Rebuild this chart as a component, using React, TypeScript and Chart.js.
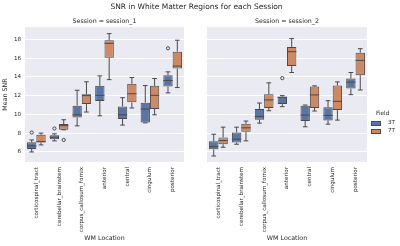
import React, { useEffect, useRef } from "react";
import { Chart, registerables } from "chart.js";
Chart.register(...registerables);

const FONT = "DejaVu Sans";
const TEXT = "#262626";
const LINE = "#4a4a4a";
const C3T = "#5875A4";
const C7T = "#CC8963";

const categories = [
  "corticospinal_tract",
  "cerebellar_brainstem",
  "corpus_callosum_fornix",
  "anterior",
  "central",
  "cingulum",
  "posterior",
];
const yTicks = [6, 8, 10, 12, 14, 16, 18];
const fields = ["3T", "7T"];

// Session 1
const s1_3T_q1 = [6.32, 7.36, 9.67, 11.43, 9.5, 9.14, 12.96];
const s1_3T_med = [6.64, 7.57, 9.96, 12.03, 9.96, 10.57, 13.6];
const s1_3T_q3 = [7.04, 7.79, 10.93, 13.04, 10.85, 11.25, 14.18];
const s1_3T_lo = [6.0, 7.18, 8.78, 9.85, 8.86, 9.1, 12.29];
const s1_3T_hi = [7.28, 7.93, 12.57, 14.1, 11.78, 13.07, 14.53];
const s1_3T_out = [[8.07], [8.5], [], [], [], [], [17.04]];

const s1_7T_q1 = [7.0, 8.36, 11.1, 16.04, 11.28, 10.57, 14.89];
const s1_7T_med = [7.1, 8.8, 12.0, 17.57, 12.2, 12.03, 15.14];
const s1_7T_q3 = [7.82, 8.97, 12.14, 17.9, 13.25, 13.04, 16.68];
const s1_7T_lo = [6.75, 8.36, 10.25, 13.7, 10.68, 9.96, 12.86];
const s1_7T_hi = [8.0, 9.43, 13.47, 18.6, 13.93, 13.82, 17.9];
const s1_7T_out = [[], [7.28], [], [], [], [], []];

// Session 2
const s2_3T_q1 = [6.29, 7.0, 9.43, 11.1, 9.29, 9.36, 12.75];
const s2_3T_med = [6.57, 7.36, 9.78, 11.82, 9.93, 9.89, 13.43];
const s2_3T_q3 = [7.14, 8.07, 10.57, 11.89, 10.93, 10.75, 13.82];
const s2_3T_lo = [5.57, 6.82, 9.07, 10.82, 8.68, 8.96, 12.1];
const s2_3T_hi = [7.89, 8.64, 11.21, 12.0, 11.0, 11.46, 14.46];
const s2_3T_out = [[], [], [], [13.86], [], [], []];

const s2_7T_q1 = [6.82, 8.14, 10.68, 15.14, 10.68, 10.46, 14.18];
const s2_7T_med = [7.21, 8.57, 11.54, 16.68, 12.07, 11.39, 15.75];
const s2_7T_q3 = [7.53, 9.0, 12.14, 17.18, 12.96, 13.07, 16.57];
const s2_7T_lo = [6.5, 7.18, 10.39, 14.46, 10.36, 9.39, 12.6];
const s2_7T_hi = [8.64, 9.29, 13.36, 18.07, 13.04, 13.46, 17.0];
const s2_7T_out = [[], [], [], [], [], [], []];

type BoxSeries = {
  q1: number[];
  med: number[];
  q3: number[];
  lo: number[];
  hi: number[];
  out: number[][];
};

const session1: BoxSeries[] = [
  { q1: s1_3T_q1, med: s1_3T_med, q3: s1_3T_q3, lo: s1_3T_lo, hi: s1_3T_hi, out: s1_3T_out },
  { q1: s1_7T_q1, med: s1_7T_med, q3: s1_7T_q3, lo: s1_7T_lo, hi: s1_7T_hi, out: s1_7T_out },
];
const session2: BoxSeries[] = [
  { q1: s2_3T_q1, med: s2_3T_med, q3: s2_3T_q3, lo: s2_3T_lo, hi: s2_3T_hi, out: s2_3T_out },
  { q1: s2_7T_q1, med: s2_7T_med, q3: s2_7T_q3, lo: s2_7T_lo, hi: s2_7T_hi, out: s2_7T_out },
];

const bgPlugin = {
  id: "bg",
  beforeDraw(chart: any) {
    const { ctx, chartArea } = chart;
    ctx.save();
    ctx.fillStyle = "#EAEAF2";
    ctx.fillRect(chartArea.left, chartArea.top, chartArea.right - chartArea.left, chartArea.bottom - chartArea.top);
    ctx.restore();
  },
};

const makeBoxPlugin = (series: BoxSeries[]) => ({
  id: "boxparts",
  afterDatasetsDraw(chart: any) {
    const ctx = chart.ctx;
    const y = chart.scales.y;
    ctx.save();
    ctx.strokeStyle = LINE;
    ctx.lineWidth = 1;
    series.forEach((s, d) => {
      const meta = chart.getDatasetMeta(d);
      meta.data.forEach((el: any, i: number) => {
        const x = el.x;
        const w = el.width;
        const line = (x1: number, y1: number, x2: number, y2: number) => {
          ctx.beginPath();
          ctx.moveTo(x1, y1);
          ctx.lineTo(x2, y2);
          ctx.stroke();
        };
        const pq1 = y.getPixelForValue(s.q1[i]);
        const pq3 = y.getPixelForValue(s.q3[i]);
        const plo = y.getPixelForValue(s.lo[i]);
        const phi = y.getPixelForValue(s.hi[i]);
        const pmed = y.getPixelForValue(s.med[i]);
        const cap = w * 0.25;
        line(x, pq3, x, phi);
        line(x - cap, phi, x + cap, phi);
        line(x, pq1, x, plo);
        line(x - cap, plo, x + cap, plo);
        line(x - w / 2, pmed, x + w / 2, pmed);
        s.out[i].forEach((v) => {
          ctx.beginPath();
          ctx.arc(x, y.getPixelForValue(v), 1.6, 0, Math.PI * 2);
          ctx.stroke();
        });
      });
    });
    ctx.restore();
  },
});

function Panel(props: {
  series: BoxSeries[];
  title: string;
  left: number;
  width: number;
  showY: boolean;
  yWidth: number;
  padRight: number;
}) {
  const ref = useRef<HTMLCanvasElement>(null);
  useEffect(() => {
    if (!ref.current) return;
    const { series } = props;
    const chart = new Chart(ref.current, {
      type: "bar",
      data: {
        labels: categories,
        datasets: series.map((s, d) => ({
          label: fields[d],
          data: s.q1.map((v, i) => [v, s.q3[i]]),
          backgroundColor: d === 0 ? C3T : C7T,
          borderColor: LINE,
          borderWidth: 1,
          borderSkipped: false,
          categoryPercentage: 0.82,
          barPercentage: 1,
        })) as any,
      },
      options: {
        animation: false,
        responsive: false,
        layout: { padding: { top: 18, right: props.padRight, left: 0, bottom: 0 } },
        plugins: {
          legend: { display: false },
          tooltip: { enabled: false },
          title: {
            display: true,
            text: props.title,
            fullSize: false,
            color: TEXT,
            font: { family: FONT, size: 6.3, weight: "normal" },
            padding: { top: 0, bottom: 1.5 },
          },
        },
        scales: {
          x: {
            grid: { display: false, drawTicks: false },
            border: { display: false },
            ticks: {
              autoSkip: false,
              minRotation: 90,
              maxRotation: 90,
              padding: 5,
              color: TEXT,
              font: { family: FONT, size: 5.6 },
            },
            title: {
              display: true,
              text: "WM Location",
              color: TEXT,
              font: { family: FONT, size: 6.3 },
              padding: { top: 0, bottom: 3.5 },
            },
            afterFit: (a: any) => {
              a.height = 84;
            },
          },
          y: {
            min: 4.93,
            max: 19.3,
            afterBuildTicks: (a: any) => {
              a.ticks = yTicks.map((v) => ({ value: v }));
            },
            grid: { color: "#ffffff", lineWidth: 1, drawTicks: false },
            border: { display: false },
            ticks: {
              display: props.showY,
              padding: 4,
              color: TEXT,
              font: { family: FONT, size: 5.6 },
            },
            title: {
              display: props.showY,
              text: "Mean SNR",
              color: TEXT,
              font: { family: FONT, size: 6.3 },
              padding: { top: 1.5, bottom: 0 },
            },
            afterFit: (a: any) => {
              a.width = props.yWidth;
            },
          },
        },
      } as any,
      plugins: [bgPlugin, makeBoxPlugin(series)],
    });
    return () => chart.destroy();
  }, []);
  return (
    <canvas
      ref={ref}
      width={props.width}
      height={246}
      style={{ position: "absolute", left: props.left, top: 0, width: props.width, height: 246 }}
    />
  );
}

export default function App() {
  const txt: React.CSSProperties = { position: "absolute", fontFamily: FONT, color: TEXT, whiteSpace: "nowrap", lineHeight: 1 };
  return (
    <div style={{ position: "fixed", left: 0, top: 0, width: 400, height: 246, background: "#ffffff", overflow: "hidden" }}>
      <Panel series={session1} title="Session = session_1" left={0} width={192} showY={true} yWidth={25} padRight={8} />
      <Panel series={session2} title="Session = session_2" left={200} width={200} showY={false} yWidth={7} padRight={33} />
      <div style={{ ...txt, left: 0, width: 393, top: 3, fontSize: 7.5, textAlign: "center" }}>
        SNR in White Matter Regions for each Session
      </div>
      <div style={{ ...txt, left: 376, top: 111, fontSize: 5.8 }}>Field</div>
      {fields.map((f, i) => (
        <React.Fragment key={f}>
          <div
            style={{
              position: "absolute",
              left: 371,
              top: 121 + i * 8,
              width: 8,
              height: 3,
              background: i === 0 ? C3T : C7T,
              border: `0.5px solid ${LINE}`,
            }}
          />
          <div style={{ ...txt, left: 388, top: 120 + i * 8, fontSize: 5.6 }}>{f}</div>
        </React.Fragment>
      ))}
    </div>
  );
}
